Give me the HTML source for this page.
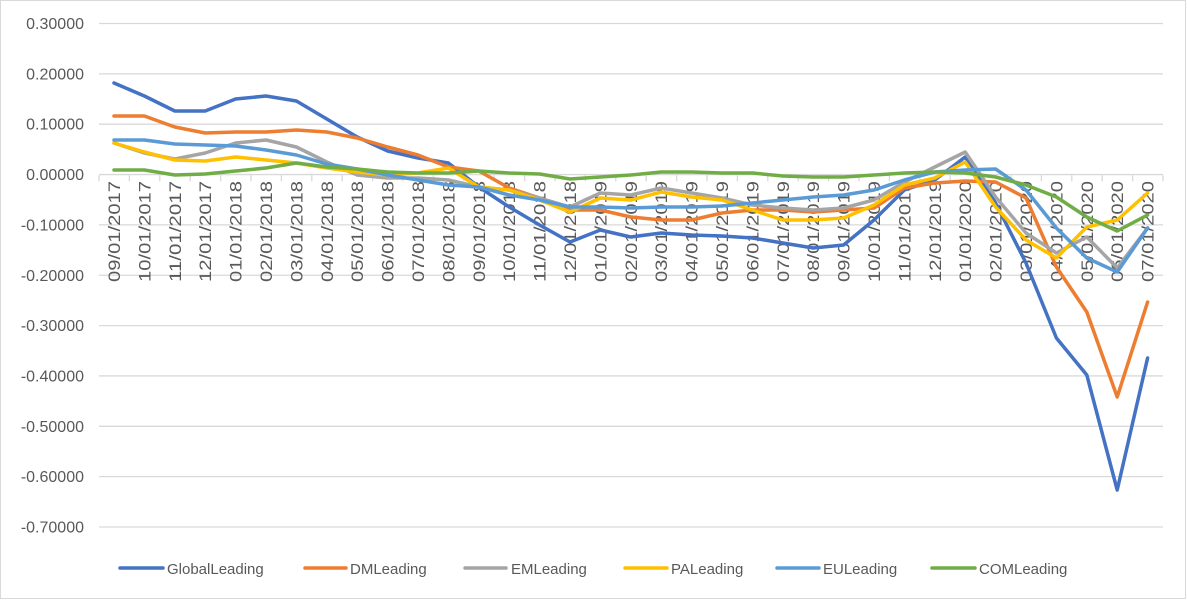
<!DOCTYPE html>
<html><head><meta charset="utf-8"><style>
html,body{margin:0;padding:0;background:#fff;}
svg{display:block;font-family:"Liberation Sans",sans-serif;}
</style></head><body>
<svg id="c" width="1187" height="600" xmlns="http://www.w3.org/2000/svg">
<rect x="0.5" y="0.5" width="1185" height="598" fill="#fff" stroke="#d9d9d9"/>
<g id="grid"></g><g id="lab"></g><g id="ser"></g>
<g font-size="15" fill="#595959">
<line x1="120" y1="568" x2="163" y2="568" stroke="#4472C4" stroke-width="3.5" stroke-linecap="round"/><text x="167" y="574">GlobalLeading</text>
<line x1="305" y1="568" x2="346" y2="568" stroke="#ED7D31" stroke-width="3.5" stroke-linecap="round"/><text x="350" y="574">DMLeading</text>
<line x1="465" y1="568" x2="506" y2="568" stroke="#A5A5A5" stroke-width="3.5" stroke-linecap="round"/><text x="511" y="574">EMLeading</text>
<line x1="625" y1="568" x2="667" y2="568" stroke="#FFC000" stroke-width="3.5" stroke-linecap="round"/><text x="671" y="574">PALeading</text>
<line x1="777" y1="568" x2="819" y2="568" stroke="#5B9BD5" stroke-width="3.5" stroke-linecap="round"/><text x="823" y="574">EULeading</text>
<line x1="932" y1="568" x2="975" y2="568" stroke="#70AD47" stroke-width="3.5" stroke-linecap="round"/><text x="979" y="574">COMLeading</text>
</g>
</svg>
<script>
var NS="http://www.w3.org/2000/svg";
function el(p,t,a,txt){var e=document.createElementNS(NS,t);for(var k in a)e.setAttribute(k,a[k]);if(txt)e.textContent=txt;p.appendChild(e);return e;}
var g=document.getElementById('grid'),l=document.getElementById('lab'),s=document.getElementById('ser');
var labs=["0.30000","0.20000","0.10000","0.00000","-0.10000","-0.20000","-0.30000","-0.40000","-0.50000","-0.60000","-0.70000"];
for(var i=0;i<11;i++){var y=23.5+i*50.35;
el(g,'line',{x1:99,x2:1163,y1:y,y2:y,stroke:'#d9d9d9','stroke-width':1.3});
el(l,'text',{x:84,y:y+5.5,'text-anchor':'end','font-size':16,fill:'#595959'},labs[i]);}
var Z=175.3;
for(var i=0;i<=35;i++){var x=99+i*30.4;el(g,'line',{x1:x,x2:x,y1:Z,y2:Z+6,stroke:'#d9d9d9','stroke-width':1.3});}
var dates=[];var m=9,yr=2017;for(var i=0;i<35;i++){dates.push((m<10?'0':'')+m+'/01/'+yr);m++;if(m>12){m=1;yr++;}}
for(var i=0;i<35;i++){var x=114+i*30.4+6;el(l,'text',{x:0,y:0,transform:'translate('+x+',181) rotate(-90)','text-anchor':'end','font-size':17,textLength:101,lengthAdjust:'spacingAndGlyphs',fill:'#595959'},dates[i]);}
var data=[
['#4472C4',[83,96,111,111,99,96,101,119,137,151,158,163,187,207,225,242,230,237,233,235,236,238,243,248,245,220,190,180,157,203,263,338,375,490,358]],
['#ED7D31',[116,116,127,133,132,132,130,132,138,147,155,167,171,188,198,210,210,217,220,220,213,210,210,212,210,208,188,183,181,182,198,267,312,397,302]],
['#A5A5A5',[143,153,159,153,143,140,147,162,175,178,178,180,187,190,198,207,193,195,188,193,198,205,208,210,208,200,182,167,152,197,233,253,237,268,228]],
['#FFC000',[143,152,160,161,157,160,163,168,172,175,173,168,187,190,200,212,198,200,192,197,200,210,220,220,218,205,185,178,162,207,240,258,227,220,193]],
['#5B9BD5',[140,140,144,145,146,150,155,164,169,175,180,185,187,195,200,207,207,208,207,207,206,203,200,197,195,190,180,172,170,169,190,228,258,272,228]],
['#70AD47',[170,170,175,174,171,168,163,167,169,172,173,173,171,173,174,179,177,175,172,172,173,173,176,177,177,175,173,172,173,177,185,197,217,231,215]]];
data.forEach(function(d){var p=d[1].map(function(y,i){return (114+i*30.4).toFixed(1)+','+y;}).join(' ');
el(s,'polyline',{points:p,fill:'none',stroke:d[0],'stroke-width':3.5,'stroke-linejoin':'round','stroke-linecap':'round'});});
</script>
</body></html>
